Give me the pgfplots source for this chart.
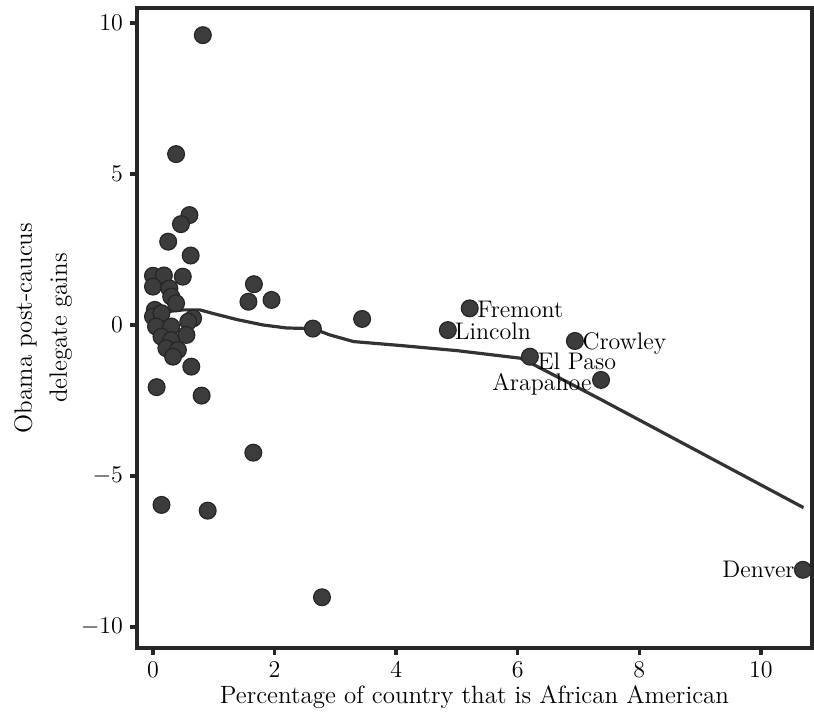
\documentclass[border=0pt]{standalone}
\usepackage{pgfplots}
\pgfplotsset{compat=1.18}
\definecolor{pt}{HTML}{3C3C3C}
\definecolor{ln}{HTML}{333333}
\begin{document}
\begin{tikzpicture}
\begin{axis}[
  scale only axis, width=337.5pt, height=320pt,
  xmin=-0.263, xmax=10.84, ymin=-10.7, ymax=10.5,
  xtick={0,2,4,6,8,10}, ytick={-10,-5,0,5,10},
  tick align=outside, tick pos=left, major tick length=3.5pt,
  every tick/.style={black!85, line width=1.7pt},
  axis line style={line width=1.8pt, black!85},
  tick label style={font=\fontsize{12.5}{14}\selectfont},
  label style={font=\fontsize{12.5}{17.5}\selectfont},
  xlabel={Percentage of country that is African American},
  xlabel style={at={(axis description cs:0.5,0)}, anchor=center, yshift=-24.5pt},
  ylabel={Obama post-caucus\\delegate gains},
  ylabel style={align=center, at={(axis description cs:-0.139,0.5)}, anchor=center},
  clip=false,
]
\addplot[only marks, mark=*, mark size=4.2pt, mark options={fill=pt, draw=black!85, line width=0.6pt}] coordinates {
(0.82,9.6) (0.38,5.66) (0.6,3.64) (0.46,3.34) (0.25,2.76) (0.62,2.3)
(0.0,1.63) (0.18,1.64) (0.49,1.6) (0.0,1.27) (0.27,1.21) (0.3,0.94) (0.38,0.72)
(0.03,0.5) (0.0,0.28) (0.14,0.39) (0.66,0.22) (0.58,0.11) (0.05,-0.05) (0.3,-0.05)
(0.14,-0.39) (0.3,-0.5) (0.55,-0.33) (0.22,-0.77) (0.41,-0.83) (0.33,-1.05) (0.63,-1.38)
(0.06,-2.06) (0.8,-2.34) (1.66,1.35) (1.57,0.77) (1.95,0.83) (2.63,-0.12)
(1.65,-4.23) (0.14,-5.96) (0.9,-6.15) (2.78,-9.02) (3.44,0.2)
(5.21,0.55) (4.85,-0.17) (6.94,-0.53) (6.2,-1.05) (7.37,-1.82) (10.69,-8.11)
};
\addplot[ln, line width=1.6pt, no marks] coordinates {
(-0.04,0.28) (0.22,0.44) (0.5,0.5) (0.77,0.5) (0.99,0.38) (1.38,0.18) (1.81,0.0)
(2.2,-0.1) (2.63,-0.12) (2.91,-0.33) (3.3,-0.55) (4.07,-0.68) (5.0,-0.85)
(6.04,-1.1) (6.25,-1.3) (7.35,-2.45) (10.7,-6.05)
};
\begin{scope}[every node/.style={font=\fontsize{12}{14}\selectfont, inner sep=0pt}]
\node[anchor=west] at (axis cs:5.33,0.5) {Fremont};
\node[anchor=west] at (axis cs:4.96,-0.2) {Lincoln};
\node[anchor=west] at (axis cs:7.06,-0.6) {Crowley};
\node[anchor=west] at (axis cs:6.32,-1.2) {El Paso};
\node[anchor=east] at (axis cs:7.22,-1.95) {Arapahoe};
\node[anchor=east] at (axis cs:10.56,-8.11) {Denver};
\end{scope}
\end{axis}
\pgfresetboundingbox
\path (-68.5pt,-34.5pt) rectangle (338.5pt,324pt);
\end{tikzpicture}
\end{document}
